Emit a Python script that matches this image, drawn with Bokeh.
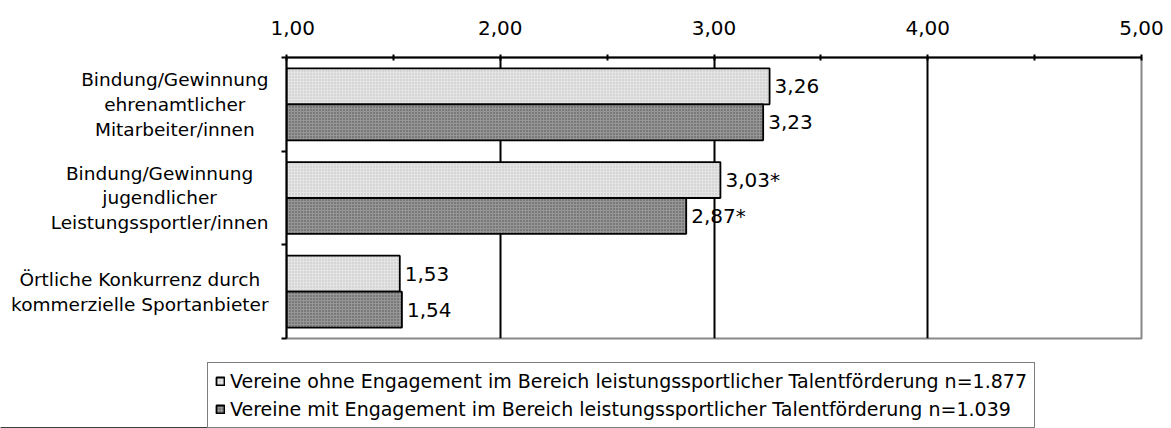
from bokeh.plotting import figure
from bokeh.layouts import column, row
from bokeh.models import (ColumnDataSource, Range1d, FixedTicker, Legend, LegendItem)
from bokeh.core.properties import value
from bokeh.embed import file_html
from bokeh.resources import INLINE

# ---- data ----
categories = [
    "Bindung/Gewinnung\nehrenamtlicher\nMitarbeiter/innen",
    "Bindung/Gewinnung\njugendlicher\nLeistungssportler/innen",
    "Örtliche Konkurrenz durch\nkommerzielle Sportanbieter",
]
ohne_values = [3.26, 3.03, 1.53]
mit_values = [3.23, 2.87, 1.54]
ohne_sig = ["", "*", ""]
mit_sig = ["", "*", ""]
series_names = [
    "Vereine ohne Engagement im Bereich leistungssportlicher Talentförderung n=1.877",
    "Vereine mit Engagement im Bereich leistungssportlicher Talentförderung n=1.039",
]
x_ticks = [1, 2, 3, 4, 5]
x_tick_labels = ["1,00", "2,00", "3,00", "4,00", "5,00"]

FONT = "DejaVu Sans"
LABEL_W = 270
LABEL_RIGHT = 268

def fmt(v, s):
    return ("%.2f" % v).replace(".", ",") + s

pos = [i + 0.5 for i in range(len(categories))]
bar_h = 0.384
off = bar_h / 2

src_ohne = ColumnDataSource(dict(
    y=[p_ - off for p_ in pos], right=ohne_values,
    label=[fmt(v, s) for v, s in zip(ohne_values, ohne_sig)]))
src_mit = ColumnDataSource(dict(
    y=[p_ + off for p_ in pos], right=mit_values,
    label=[fmt(v, s) for v, s in zip(mit_values, mit_sig)]))

y_range = Range1d(len(categories), 0)

light_style = dict(fill_color="#e4e4e4", line_color="black", line_width=1.8,
                   hatch_pattern="dot", hatch_color="#bdbdbd", hatch_scale=3, hatch_weight=1)
dark_style = dict(fill_color="#969696", line_color="black", line_width=1.8,
                  hatch_pattern="dot", hatch_color="#4c4c4c", hatch_scale=3, hatch_weight=1.5)

# ---- main chart ----
p = figure(width=1171 - LABEL_W, height=340, output_backend="svg", toolbar_location=None,
           x_range=Range1d(1, 5), y_range=y_range, x_axis_location="above",
           min_border_left=16, min_border_right=30, min_border_top=57,
           min_border_bottom=2)
p.background_fill_color = "white"
p.border_fill_color = "white"
p.outline_line_color = "#888888"
p.outline_line_width = 2

r1 = p.hbar(y="y", left=1, right="right", height=bar_h, source=src_ohne, **light_style)
r2 = p.hbar(y="y", left=1, right="right", height=bar_h, source=src_mit, **dark_style)

for src in (src_ohne, src_mit):
    p.text(x="right", y="y", text="label", source=src, x_offset=5,
           text_baseline="middle", text_align="left", text_font_size="20px",
           text_font=value(FONT), text_color="black")

xa = p.xaxis[0]
xa.ticker = FixedTicker(ticks=x_ticks, minor_ticks=[1.5, 2.5, 3.5, 4.5])
xa.major_label_overrides = {t: l for t, l in zip(x_ticks, x_tick_labels)}
xa.axis_line_width = 2
xa.major_tick_line_width = 2
xa.minor_tick_line_width = 2
xa.major_tick_in = 3
xa.major_tick_out = 3
xa.minor_tick_in = 3
xa.minor_tick_out = 3
xa.major_label_standoff = 20
xa.major_label_text_font_size = "20px"
xa.major_label_text_font = FONT
xa.major_label_text_color = "black"

ya = p.yaxis[0]
ya.ticker = FixedTicker(ticks=[], minor_ticks=list(range(len(categories) + 1)))
ya.major_label_text_font_size = "0px"
ya.major_label_standoff = 0
ya.axis_line_width = 2
ya.major_tick_line_color = None
ya.minor_tick_line_width = 2
ya.minor_tick_line_color = "black"
ya.minor_tick_in = 0
ya.minor_tick_out = 5

p.ygrid.visible = False
p.xgrid.ticker = FixedTicker(ticks=[2, 3, 4])
p.xgrid.grid_line_color = "black"
p.xgrid.grid_line_width = 2

# ---- category labels panel ----
lab = figure(width=LABEL_W, height=340, output_backend="svg", toolbar_location=None,
             x_range=Range1d(0, LABEL_W), y_range=y_range,
             x_axis_type=None, y_axis_type=None,
             min_border_left=0, min_border_right=0, min_border_top=57,
             min_border_bottom=2)
lab.outline_line_color = None
lab.xgrid.visible = False
lab.ygrid.visible = False
lab.text(x=[LABEL_RIGHT] * len(categories), y=pos, text=categories,
         anchor="center_right", text_align="center", text_baseline="middle",
         text_font_size="18.5px", text_font=value(FONT), text_line_height=1.18,
         text_color="black")

# ---- legend panel ----
LEG_H = 428 - 340
lg = figure(width=1171, height=LEG_H, output_backend="svg", toolbar_location=None,
            x_range=Range1d(0, 1), y_range=Range1d(0, 1),
            x_axis_type=None, y_axis_type=None,
            min_border_left=0, min_border_right=0, min_border_top=0, min_border_bottom=0)
lg.outline_line_color = None
lg.xgrid.visible = False
lg.ygrid.visible = False
hidden = ColumnDataSource(dict(y=[-10], right=[0.5]))
d1 = lg.hbar(y="y", left=0, right="right", height=0.1, source=hidden, **light_style)
d2 = lg.hbar(y="y", left=0, right="right", height=0.1, source=hidden, **dark_style)

legend = Legend(items=[LegendItem(label=series_names[0], renderers=[d1]),
                       LegendItem(label=series_names[1], renderers=[d2])],
                location=(207, 0), orientation="vertical")
legend.label_text_font = FONT
legend.label_text_font_size = "19px"
legend.label_text_color = "black"
legend.glyph_width = 10
legend.glyph_height = 10
legend.label_standoff = 5
legend.label_height = 20
legend.spacing = 6
legend.padding = 7
legend.margin = 0
legend.border_line_color = "black"
legend.border_line_width = 1.5
legend.background_fill_color = "white"
legend.background_fill_alpha = 1
lg.add_layout(legend, "center")

layout = column(row(lab, p, spacing=0), lg, spacing=0)
open("out.html", "w").write(file_html(layout, INLINE))
